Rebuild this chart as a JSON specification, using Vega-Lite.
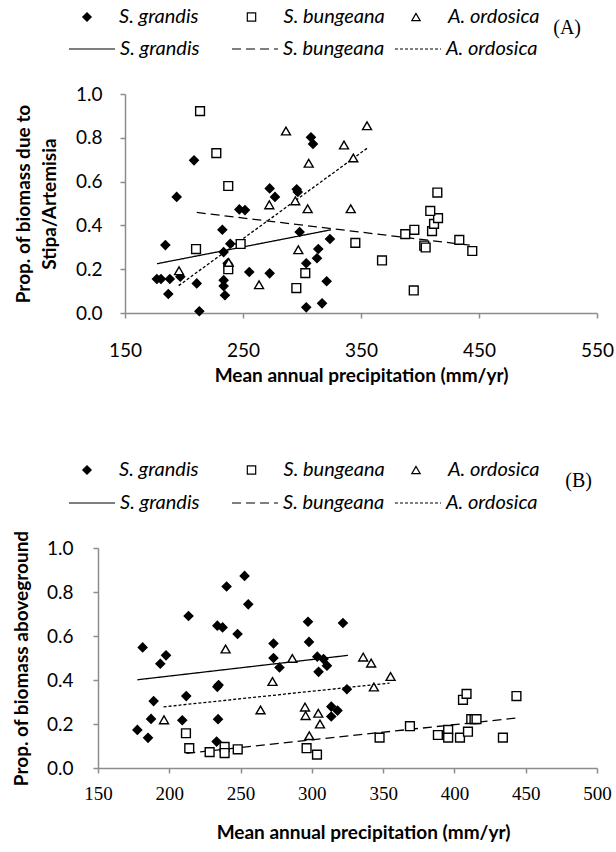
{
  "$schema": "https://vega.github.io/schema/vega-lite/v6.json",
  "background": "white",
  "padding": {"left": 12, "top": 7, "right": 0, "bottom": 0},
  "config": {
    "font": "Lato",
    "view": {"stroke": null},
    "axis": {"domainColor": "#8c8c8c", "domainWidth": 1.5, "tickColor": "#8c8c8c", "tickWidth": 1.5, "tickSize": 5, "grid": false, "labelColor": "black", "titleColor": "black", "labelFont": "Lato", "labelFontSize": 19, "titleFont": "Lato", "titleFontSize": 19, "titleFontWeight": "bold", "labelFlush": false},
    "legend": {"labelFont": "Lato", "labelFontSize": 20, "labelFontStyle": "italic", "labelColor": "black", "padding": 0},
    "title": {"font": "Liberation Serif", "fontSize": 20, "fontWeight": "normal", "color": "black"}
  },
  "datasets": {
    "a_pts": [
      {"species": "S. grandis", "map": 177, "prop": 0.155},
      {"species": "S. grandis", "map": 180.5, "prop": 0.155},
      {"species": "S. grandis", "map": 188, "prop": 0.155},
      {"species": "S. grandis", "map": 186.7, "prop": 0.087},
      {"species": "S. grandis", "map": 184.2, "prop": 0.31},
      {"species": "S. grandis", "map": 193.8, "prop": 0.53},
      {"species": "S. grandis", "map": 196.9, "prop": 0.166},
      {"species": "S. grandis", "map": 208.5, "prop": 0.697},
      {"species": "S. grandis", "map": 210.8, "prop": 0.135},
      {"species": "S. grandis", "map": 213, "prop": 0.008},
      {"species": "S. grandis", "map": 232.5, "prop": 0.38},
      {"species": "S. grandis", "map": 233.6, "prop": 0.278},
      {"species": "S. grandis", "map": 233.6, "prop": 0.15},
      {"species": "S. grandis", "map": 233.6, "prop": 0.123},
      {"species": "S. grandis", "map": 234.7, "prop": 0.081},
      {"species": "S. grandis", "map": 237, "prop": 0.227},
      {"species": "S. grandis", "map": 239.2, "prop": 0.316},
      {"species": "S. grandis", "map": 255.3, "prop": 0.187},
      {"species": "S. grandis", "map": 246.9, "prop": 0.473},
      {"species": "S. grandis", "map": 251.7, "prop": 0.47},
      {"species": "S. grandis", "map": 272.6, "prop": 0.569},
      {"species": "S. grandis", "map": 277.1, "prop": 0.53},
      {"species": "S. grandis", "map": 272.6, "prop": 0.181},
      {"species": "S. grandis", "map": 295.5, "prop": 0.565},
      {"species": "S. grandis", "map": 296.4, "prop": 0.553},
      {"species": "S. grandis", "map": 298, "prop": 0.37},
      {"species": "S. grandis", "map": 303.6, "prop": 0.227},
      {"species": "S. grandis", "map": 303.6, "prop": 0.026},
      {"species": "S. grandis", "map": 307.6, "prop": 0.802},
      {"species": "S. grandis", "map": 309.3, "prop": 0.772},
      {"species": "S. grandis", "map": 313.8, "prop": 0.292},
      {"species": "S. grandis", "map": 312.7, "prop": 0.25},
      {"species": "S. grandis", "map": 317, "prop": 0.044},
      {"species": "S. grandis", "map": 320.9, "prop": 0.145},
      {"species": "S. grandis", "map": 323.7, "prop": 0.338},
      {"species": "S. bungeana", "map": 213.6, "prop": 0.922},
      {"species": "S. bungeana", "map": 227.4, "prop": 0.73},
      {"species": "S. bungeana", "map": 237.5, "prop": 0.58},
      {"species": "S. bungeana", "map": 210.2, "prop": 0.292},
      {"species": "S. bungeana", "map": 248, "prop": 0.315},
      {"species": "S. bungeana", "map": 237.5, "prop": 0.2},
      {"species": "S. bungeana", "map": 302.8, "prop": 0.182},
      {"species": "S. bungeana", "map": 295.2, "prop": 0.114},
      {"species": "S. bungeana", "map": 345.2, "prop": 0.32},
      {"species": "S. bungeana", "map": 367.8, "prop": 0.24},
      {"species": "S. bungeana", "map": 394.7, "prop": 0.103},
      {"species": "S. bungeana", "map": 387.5, "prop": 0.36},
      {"species": "S. bungeana", "map": 395.2, "prop": 0.38},
      {"species": "S. bungeana", "map": 403.6, "prop": 0.308},
      {"species": "S. bungeana", "map": 404.8, "prop": 0.299},
      {"species": "S. bungeana", "map": 410.2, "prop": 0.374},
      {"species": "S. bungeana", "map": 411.9, "prop": 0.407},
      {"species": "S. bungeana", "map": 415.3, "prop": 0.433},
      {"species": "S. bungeana", "map": 408.7, "prop": 0.466},
      {"species": "S. bungeana", "map": 414.7, "prop": 0.55},
      {"species": "S. bungeana", "map": 433.3, "prop": 0.334},
      {"species": "S. bungeana", "map": 444.3, "prop": 0.283},
      {"species": "A. ordosica", "map": 195.8, "prop": 0.193},
      {"species": "A. ordosica", "map": 237.9, "prop": 0.231},
      {"species": "A. ordosica", "map": 263.6, "prop": 0.129},
      {"species": "A. ordosica", "map": 272.3, "prop": 0.494},
      {"species": "A. ordosica", "map": 286.4, "prop": 0.831},
      {"species": "A. ordosica", "map": 294.3, "prop": 0.512},
      {"species": "A. ordosica", "map": 304.8, "prop": 0.476},
      {"species": "A. ordosica", "map": 305.7, "prop": 0.684},
      {"species": "A. ordosica", "map": 296.9, "prop": 0.289},
      {"species": "A. ordosica", "map": 335.6, "prop": 0.767},
      {"species": "A. ordosica", "map": 343.5, "prop": 0.708},
      {"species": "A. ordosica", "map": 341.3, "prop": 0.476},
      {"species": "A. ordosica", "map": 355.1, "prop": 0.855}
    ],
    "a_fit": [
      {"fit": "S. grandis fit", "map": 177.1, "prop": 0.225},
      {"fit": "S. grandis fit", "map": 324.6, "prop": 0.38},
      {"fit": "S. bungeana fit", "map": 210.8, "prop": 0.459},
      {"fit": "S. bungeana fit", "map": 444.7, "prop": 0.308},
      {"fit": "A. ordosica fit", "map": 195.5, "prop": 0.125},
      {"fit": "A. ordosica fit", "map": 355.1, "prop": 0.752}
    ],
    "b_pts": [
      {"species": "S. grandis", "map": 177.6, "prop": 0.173},
      {"species": "S. grandis", "map": 185.1, "prop": 0.137},
      {"species": "S. grandis", "map": 181.3, "prop": 0.548},
      {"species": "S. grandis", "map": 187.2, "prop": 0.223},
      {"species": "S. grandis", "map": 189, "prop": 0.304},
      {"species": "S. grandis", "map": 193.7, "prop": 0.474},
      {"species": "S. grandis", "map": 197.7, "prop": 0.512},
      {"species": "S. grandis", "map": 209.1, "prop": 0.217},
      {"species": "S. grandis", "map": 211.9, "prop": 0.327},
      {"species": "S. grandis", "map": 213.5, "prop": 0.691},
      {"species": "S. grandis", "map": 233.7, "prop": 0.647},
      {"species": "S. grandis", "map": 237.4, "prop": 0.639},
      {"species": "S. grandis", "map": 233.7, "prop": 0.369},
      {"species": "S. grandis", "map": 234.6, "prop": 0.377},
      {"species": "S. grandis", "map": 234.2, "prop": 0.222},
      {"species": "S. grandis", "map": 233.2, "prop": 0.12},
      {"species": "S. grandis", "map": 240.2, "prop": 0.825},
      {"species": "S. grandis", "map": 247.9, "prop": 0.609},
      {"species": "S. grandis", "map": 252.8, "prop": 0.873},
      {"species": "S. grandis", "map": 255.4, "prop": 0.744},
      {"species": "S. grandis", "map": 273.1, "prop": 0.566},
      {"species": "S. grandis", "map": 273.1, "prop": 0.5},
      {"species": "S. grandis", "map": 277.3, "prop": 0.457},
      {"species": "S. grandis", "map": 297.3, "prop": 0.665},
      {"species": "S. grandis", "map": 298, "prop": 0.573},
      {"species": "S. grandis", "map": 303.8, "prop": 0.506},
      {"species": "S. grandis", "map": 308.2, "prop": 0.495},
      {"species": "S. grandis", "map": 304.7, "prop": 0.437},
      {"species": "S. grandis", "map": 310.6, "prop": 0.465},
      {"species": "S. grandis", "map": 313.6, "prop": 0.279},
      {"species": "S. grandis", "map": 318, "prop": 0.261},
      {"species": "S. grandis", "map": 313.6, "prop": 0.234},
      {"species": "S. grandis", "map": 321.8, "prop": 0.659},
      {"species": "S. grandis", "map": 324.6, "prop": 0.358},
      {"species": "S. bungeana", "map": 211.7, "prop": 0.158},
      {"species": "S. bungeana", "map": 214, "prop": 0.09},
      {"species": "S. bungeana", "map": 228.3, "prop": 0.072},
      {"species": "S. bungeana", "map": 238.8, "prop": 0.096},
      {"species": "S. bungeana", "map": 238.8, "prop": 0.068},
      {"species": "S. bungeana", "map": 248, "prop": 0.085},
      {"species": "S. bungeana", "map": 296.3, "prop": 0.09},
      {"species": "S. bungeana", "map": 303.6, "prop": 0.061},
      {"species": "S. bungeana", "map": 347.5, "prop": 0.138},
      {"species": "S. bungeana", "map": 368.8, "prop": 0.19},
      {"species": "S. bungeana", "map": 388.4, "prop": 0.15},
      {"species": "S. bungeana", "map": 395.6, "prop": 0.173},
      {"species": "S. bungeana", "map": 395.6, "prop": 0.138},
      {"species": "S. bungeana", "map": 403.9, "prop": 0.138},
      {"species": "S. bungeana", "map": 409.5, "prop": 0.165},
      {"species": "S. bungeana", "map": 406, "prop": 0.31},
      {"species": "S. bungeana", "map": 408.5, "prop": 0.337},
      {"species": "S. bungeana", "map": 411.8, "prop": 0.222},
      {"species": "S. bungeana", "map": 414.1, "prop": 0.222},
      {"species": "S. bungeana", "map": 415.5, "prop": 0.222},
      {"species": "S. bungeana", "map": 434, "prop": 0.138},
      {"species": "S. bungeana", "map": 443.5, "prop": 0.327},
      {"species": "A. ordosica", "map": 196.3, "prop": 0.219},
      {"species": "A. ordosica", "map": 239.5, "prop": 0.541},
      {"species": "A. ordosica", "map": 264, "prop": 0.264},
      {"species": "A. ordosica", "map": 272.4, "prop": 0.393},
      {"species": "A. ordosica", "map": 286.3, "prop": 0.498},
      {"species": "A. ordosica", "map": 295.2, "prop": 0.277},
      {"species": "A. ordosica", "map": 295.6, "prop": 0.238},
      {"species": "A. ordosica", "map": 304.5, "prop": 0.249},
      {"species": "A. ordosica", "map": 305.7, "prop": 0.2},
      {"species": "A. ordosica", "map": 298.2, "prop": 0.147},
      {"species": "A. ordosica", "map": 336, "prop": 0.504},
      {"species": "A. ordosica", "map": 341.6, "prop": 0.477},
      {"species": "A. ordosica", "map": 343.5, "prop": 0.368},
      {"species": "A. ordosica", "map": 355.2, "prop": 0.416}
    ],
    "b_fit": [
      {"fit": "S. grandis fit", "map": 177.6, "prop": 0.401},
      {"fit": "S. grandis fit", "map": 325.3, "prop": 0.512},
      {"fit": "S. bungeana fit", "map": 211.9, "prop": 0.067},
      {"fit": "S. bungeana fit", "map": 444.5, "prop": 0.228},
      {"fit": "A. ordosica fit", "map": 196, "prop": 0.278},
      {"fit": "A. ordosica fit", "map": 354.5, "prop": 0.386}
    ]
  },
  "concat": [
    {
      "width": 499,
      "height": 219,
      "title": {"text": "(A)", "anchor": "end", "frame": "group", "dx": -16, "dy": 35},
      "layer": [
        {
          "data": {"name": "a_fit"},
          "mark": {"type": "line", "color": "black", "strokeWidth": 1.3},
          "encoding": {
            "x": {"field": "map", "type": "quantitative", "scale": {"domain": [150, 550], "nice": false, "zero": false, "range": [27, 499]},
                  "axis": {"values": [150, 250, 350, 450, 550], "title": "Mean annual precipitation (mm/yr)", "labelPadding": 23, "titlePadding": 6, "labelFlush": false, "labelOverlap": false}},
            "y": {"field": "prop", "type": "quantitative", "scale": {"domain": [0, 1], "nice": false},
                  "axis": {"values": [0, 0.2, 0.4, 0.6, 0.8, 1.0], "format": ".1f", "offset": -27, "title": ["Prop. of  biomass due to", "Stipa/Artemisia"], "titleLineHeight": 26, "labelPadding": 18, "titlePadding": 16}},
            "strokeDash": {"field": "fit", "type": "nominal",
              "scale": {"domain": ["S. grandis fit", "S. bungeana fit", "A. ordosica fit"], "range": [[1, 0], [9, 5], [3, 2]]},
              "legend": {"orient": "none", "legendX": -30, "legendY": -69, "direction": "horizontal", "title": null, "symbolType": "stroke", "symbolSize": 2116, "symbolStrokeColor": "black", "symbolStrokeWidth": 1.2, "labelOffset": 4, "gridAlign": "all", "columnPadding": 7,
                "labelExpr": "replace(datum.label, ' fit', '')"}}
          }
        },
        {
          "data": {"name": "a_pts"},
          "mark": {"type": "point", "filled": true, "stroke": "black", "strokeWidth": 1.4, "opacity": 1},
          "encoding": {
            "x": {"field": "map", "type": "quantitative"},
            "y": {"field": "prop", "type": "quantitative"},
            "shape": {"field": "species", "type": "nominal",
              "scale": {"domain": ["S. grandis", "S. bungeana", "A. ordosica"], "range": ["diamond", "square", "triangle-up"]},
              "legend": {"orient": "none", "legendX": -21, "legendY": -87, "direction": "horizontal", "title": null, "symbolSize": 70, "symbolStrokeWidth": 1.2, "labelOffset": 22, "gridAlign": "all", "columnPadding": 20.5}},
            "fill": {"field": "species", "type": "nominal",
              "scale": {"domain": ["S. grandis", "S. bungeana", "A. ordosica"], "range": ["black", "white", "white"]},
              "legend": {"orient": "none", "legendX": -21, "legendY": -87, "direction": "horizontal", "title": null, "symbolSize": 70, "symbolStrokeWidth": 1.2, "labelOffset": 22, "gridAlign": "all", "columnPadding": 20.5}},
            "stroke": {"field": "species", "type": "nominal",
              "scale": {"domain": ["S. grandis", "S. bungeana", "A. ordosica"], "range": ["black", "black", "black"]},
              "legend": {"orient": "none", "legendX": -21, "legendY": -87, "direction": "horizontal", "title": null, "symbolSize": 70, "symbolStrokeWidth": 1.2, "labelOffset": 22, "gridAlign": "all", "columnPadding": 20.5}},
            "size": {"field": "species", "type": "nominal",
              "scale": {"domain": ["A. ordosica", "S. bungeana", "S. grandis"], "range": [80, 75, 130]}, "legend": null}
          }
        }
      ]
    },
    {
      "width": 499,
      "height": 220,
      "title": {"text": "(B)", "anchor": "end", "frame": "group", "dx": -5, "dy": 35},
      "layer": [
        {
          "data": {"name": "b_fit"},
          "mark": {"type": "line", "color": "black", "strokeWidth": 1.3},
          "encoding": {
            "x": {"field": "map", "type": "quantitative", "scale": {"domain": [150, 500], "nice": false, "zero": false},
                  "axis": {"values": [150, 200, 250, 300, 350, 400, 450, 500], "title": "Mean annual precipitation (mm/yr)", "labelFont": "Liberation Serif", "labelFontSize": 19, "labelPadding": 11, "titlePadding": 20, "titleX": 265, "labelFlush": false, "labelOverlap": false}},
            "y": {"field": "prop", "type": "quantitative", "scale": {"domain": [0, 1], "nice": false},
                  "axis": {"values": [0, 0.2, 0.4, 0.6, 0.8, 1.0], "format": ".1f", "title": "Prop. of  biomass aboveground", "labelPadding": 20, "titlePadding": 15}},
            "strokeDash": {"field": "fit", "type": "nominal",
              "scale": {"domain": ["S. grandis fit", "S. bungeana fit", "A. ordosica fit"], "range": [[1, 0], [9, 5], [3, 2]]},
              "legend": {"orient": "none", "legendX": -30, "legendY": -69, "direction": "horizontal", "title": null, "symbolType": "stroke", "symbolSize": 2116, "symbolStrokeColor": "black", "symbolStrokeWidth": 1.2, "labelOffset": 4, "gridAlign": "all", "columnPadding": 7,
                "labelExpr": "replace(datum.label, ' fit', '')"}}
          }
        },
        {
          "data": {"name": "b_pts"},
          "mark": {"type": "point", "filled": true, "stroke": "black", "strokeWidth": 1.4, "opacity": 1},
          "encoding": {
            "x": {"field": "map", "type": "quantitative"},
            "y": {"field": "prop", "type": "quantitative"},
            "shape": {"field": "species", "type": "nominal",
              "scale": {"domain": ["S. grandis", "S. bungeana", "A. ordosica"], "range": ["diamond", "square", "triangle-up"]},
              "legend": {"orient": "none", "legendX": -21, "legendY": -88, "direction": "horizontal", "title": null, "symbolSize": 70, "symbolStrokeWidth": 1.2, "labelOffset": 22, "gridAlign": "all", "columnPadding": 20.5}},
            "fill": {"field": "species", "type": "nominal",
              "scale": {"domain": ["S. grandis", "S. bungeana", "A. ordosica"], "range": ["black", "white", "white"]},
              "legend": {"orient": "none", "legendX": -21, "legendY": -88, "direction": "horizontal", "title": null, "symbolSize": 70, "symbolStrokeWidth": 1.2, "labelOffset": 22, "gridAlign": "all", "columnPadding": 20.5}},
            "stroke": {"field": "species", "type": "nominal",
              "scale": {"domain": ["S. grandis", "S. bungeana", "A. ordosica"], "range": ["black", "black", "black"]},
              "legend": {"orient": "none", "legendX": -21, "legendY": -88, "direction": "horizontal", "title": null, "symbolSize": 70, "symbolStrokeWidth": 1.2, "labelOffset": 22, "gridAlign": "all", "columnPadding": 20.5}},
            "size": {"field": "species", "type": "nominal",
              "scale": {"domain": ["A. ordosica", "S. bungeana", "S. grandis"], "range": [80, 75, 130]}, "legend": null}
          }
        }
      ]
    }
  ],
  "columns": 1,
  "align": "none",
  "spacing": 75,
  "resolve": {"scale": {"x": "independent", "y": "independent", "shape": "independent", "fill": "independent", "stroke": "independent", "size": "independent", "strokeDash": "independent"}}
}
